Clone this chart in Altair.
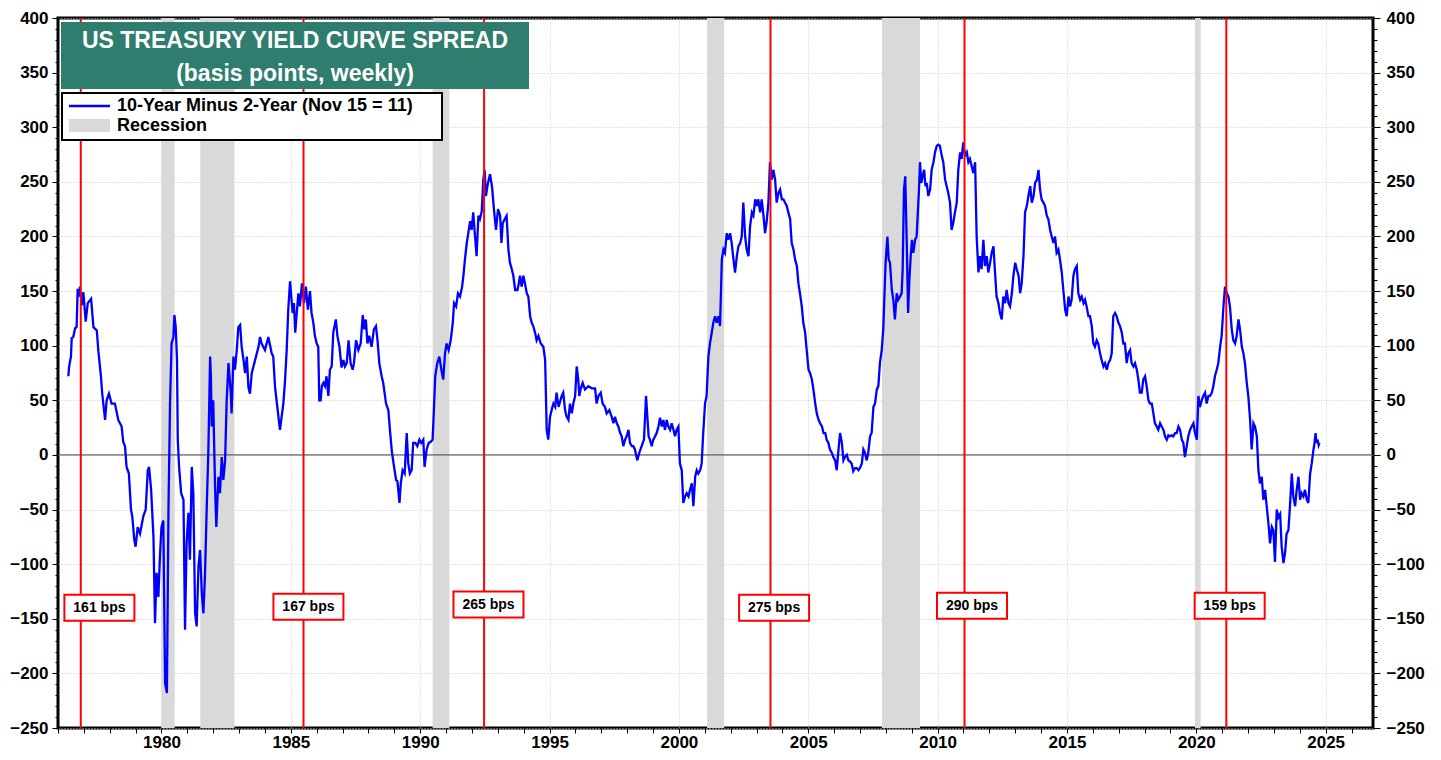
import altair as alt
import pandas as pd

# ---------------- data ----------------
weeks = [
    1976.40, 1976.43, 1976.50, 1976.53, 1976.59, 1976.66, 1976.72, 1976.76, 1976.81, 1976.85,
    1976.92, 1976.98, 1977.07, 1977.15, 1977.28, 1977.37, 1977.50, 1977.56, 1977.66, 1977.71,
    1977.82, 1977.88, 1977.97, 1978.07, 1978.20, 1978.33, 1978.46, 1978.52, 1978.59, 1978.65,
    1978.74, 1978.82, 1978.87, 1978.95, 1979.00, 1979.08, 1979.17, 1979.30, 1979.39, 1979.47,
    1979.52, 1979.60, 1979.69, 1979.75, 1979.81, 1979.88, 1979.94, 1980.00, 1980.07, 1980.14,
    1980.21, 1980.27, 1980.33, 1980.39, 1980.46, 1980.50, 1980.55, 1980.60, 1980.63, 1980.68,
    1980.76, 1980.85, 1980.91, 1980.97, 1981.04, 1981.10, 1981.17, 1981.23, 1981.30, 1981.36,
    1981.43, 1981.49, 1981.56, 1981.62, 1981.68, 1981.75, 1981.81, 1981.88, 1981.91, 1981.94,
    1982.00, 1982.07, 1982.12, 1982.20, 1982.26, 1982.33, 1982.39, 1982.46, 1982.52, 1982.59,
    1982.68, 1982.71, 1982.78, 1982.84, 1982.91, 1982.97, 1983.04, 1983.10, 1983.17, 1983.23,
    1983.30, 1983.36, 1983.42, 1983.49, 1983.62, 1983.75, 1983.81, 1983.87, 1984.00, 1984.13,
    1984.26, 1984.32, 1984.39, 1984.52, 1984.58, 1984.71, 1984.77, 1984.84, 1984.90, 1984.97,
    1985.07, 1985.12, 1985.17, 1985.29, 1985.35, 1985.43, 1985.51, 1985.58, 1985.66, 1985.74,
    1985.80, 1985.87, 1985.93, 1986.00, 1986.06, 1986.10, 1986.15, 1986.20, 1986.26, 1986.32,
    1986.38, 1986.45, 1986.51, 1986.58, 1986.64, 1986.74, 1986.80, 1986.88, 1986.96, 1987.03,
    1987.09, 1987.16, 1987.23, 1987.31, 1987.39, 1987.44, 1987.52, 1987.61, 1987.70, 1987.78,
    1987.84, 1987.90, 1987.96, 1988.03, 1988.12, 1988.21, 1988.29, 1988.35, 1988.42, 1988.51,
    1988.57, 1988.68, 1988.77, 1988.83, 1988.91, 1988.99, 1989.07, 1989.12, 1989.20, 1989.25,
    1989.32, 1989.40, 1989.48, 1989.54, 1989.60, 1989.67, 1989.73, 1989.81, 1989.89, 1989.97,
    1990.04, 1990.12, 1990.17, 1990.25, 1990.33, 1990.41, 1990.48, 1990.53, 1990.58, 1990.66,
    1990.74, 1990.82, 1990.89, 1990.96, 1991.02, 1991.10, 1991.18, 1991.26, 1991.31, 1991.39,
    1991.46, 1991.54, 1991.62, 1991.67, 1991.73, 1991.80, 1991.86, 1991.93, 1991.99, 1992.05,
    1992.12, 1992.18, 1992.25, 1992.31, 1992.38, 1992.44, 1992.49, 1992.54, 1992.62, 1992.70,
    1992.78, 1992.85, 1992.93, 1993.01, 1993.09, 1993.14, 1993.19, 1993.27, 1993.34, 1993.41,
    1993.47, 1993.54, 1993.60, 1993.67, 1993.76, 1993.81, 1993.86, 1993.92, 1993.99, 1994.05,
    1994.12, 1994.18, 1994.25, 1994.31, 1994.37, 1994.44, 1994.50, 1994.57, 1994.66, 1994.76,
    1994.83, 1994.89, 1994.95, 1995.02, 1995.08, 1995.15, 1995.22, 1995.27, 1995.35, 1995.47,
    1995.53, 1995.60, 1995.66, 1995.73, 1995.79, 1995.86, 1995.92, 1995.99, 1996.05, 1996.11,
    1996.15, 1996.20, 1996.28, 1996.37, 1996.50, 1996.63, 1996.76, 1996.82, 1996.89, 1996.98,
    1997.05, 1997.14, 1997.21, 1997.31, 1997.40, 1997.47, 1997.53, 1997.60, 1997.66, 1997.73,
    1997.79, 1997.85, 1997.92, 1997.98, 1998.05, 1998.11, 1998.18, 1998.24, 1998.30, 1998.39,
    1998.47, 1998.56, 1998.65, 1998.73, 1998.78, 1998.83, 1998.88, 1998.95, 1999.01, 1999.08,
    1999.14, 1999.21, 1999.27, 1999.34, 1999.40, 1999.46, 1999.53, 1999.59, 1999.66, 1999.72,
    1999.79, 1999.85, 1999.91, 1999.98, 2000.04, 2000.11, 2000.17, 2000.24, 2000.30, 2000.37,
    2000.43, 2000.50, 2000.56, 2000.63, 2000.69, 2000.75, 2000.82, 2000.88, 2000.94, 2001.01,
    2001.07, 2001.14, 2001.20, 2001.27, 2001.33, 2001.40, 2001.46, 2001.53, 2001.59, 2001.66,
    2001.72, 2001.78, 2001.85, 2001.91, 2001.98, 2002.04, 2002.11, 2002.17, 2002.24, 2002.30,
    2002.37, 2002.43, 2002.49, 2002.56, 2002.62, 2002.69, 2002.75, 2002.82, 2002.88, 2002.95,
    2003.01, 2003.07, 2003.14, 2003.20, 2003.27, 2003.33, 2003.39, 2003.46, 2003.52, 2003.59,
    2003.65, 2003.72, 2003.78, 2003.85, 2003.91, 2003.98, 2004.04, 2004.10, 2004.17, 2004.23,
    2004.30, 2004.36, 2004.43, 2004.49, 2004.56, 2004.62, 2004.68, 2004.75, 2004.81, 2004.88,
    2004.94, 2005.01, 2005.07, 2005.14, 2005.20, 2005.27, 2005.33, 2005.40, 2005.46, 2005.53,
    2005.59, 2005.66, 2005.71, 2005.78, 2005.84, 2005.91, 2005.97, 2006.04, 2006.10, 2006.17,
    2006.23, 2006.30, 2006.36, 2006.42, 2006.49, 2006.55, 2006.61, 2006.68, 2006.74, 2006.81,
    2006.87, 2006.94, 2007.00, 2007.07, 2007.13, 2007.19, 2007.26, 2007.32, 2007.39, 2007.45,
    2007.52, 2007.58, 2007.65, 2007.71, 2007.77, 2007.84, 2007.90, 2007.94, 2007.99, 2008.06,
    2008.11, 2008.16, 2008.23, 2008.29, 2008.35, 2008.42, 2008.48, 2008.55, 2008.61, 2008.65,
    2008.70, 2008.75, 2008.81, 2008.86, 2008.91, 2008.96, 2009.01, 2009.06, 2009.13, 2009.19,
    2009.23, 2009.28, 2009.32, 2009.37, 2009.42, 2009.48, 2009.53, 2009.58, 2009.64, 2009.71,
    2009.77, 2009.84, 2009.90, 2009.97, 2010.03, 2010.09, 2010.16, 2010.22, 2010.29, 2010.35,
    2010.41, 2010.48, 2010.54, 2010.61, 2010.67, 2010.74, 2010.80, 2010.87, 2010.93, 2010.99,
    2011.06, 2011.13, 2011.19, 2011.25, 2011.32, 2011.38, 2011.45, 2011.51, 2011.58, 2011.64,
    2011.70, 2011.77, 2011.83, 2011.90, 2011.96, 2012.03, 2012.09, 2012.16, 2012.22, 2012.28,
    2012.35, 2012.41, 2012.48, 2012.54, 2012.61, 2012.67, 2012.74, 2012.80, 2012.87, 2012.93,
    2013.00, 2013.06, 2013.13, 2013.19, 2013.25, 2013.32, 2013.38, 2013.45, 2013.51, 2013.58,
    2013.64, 2013.71, 2013.77, 2013.84, 2013.90, 2013.96, 2014.02, 2014.09, 2014.15, 2014.22,
    2014.28, 2014.35, 2014.41, 2014.48, 2014.54, 2014.60, 2014.67, 2014.73, 2014.80, 2014.86,
    2014.93, 2014.99, 2015.06, 2015.12, 2015.18, 2015.25, 2015.31, 2015.38, 2015.44, 2015.51,
    2015.57, 2015.64, 2015.70, 2015.76, 2015.83, 2015.89, 2015.96, 2016.02, 2016.08, 2016.15,
    2016.21, 2016.28, 2016.34, 2016.41, 2016.47, 2016.54, 2016.60, 2016.67, 2016.73, 2016.79,
    2016.86, 2016.92, 2016.99, 2017.05, 2017.12, 2017.18, 2017.24, 2017.31, 2017.37, 2017.44,
    2017.50, 2017.57, 2017.63, 2017.70, 2017.76, 2017.82, 2017.89, 2017.95, 2018.02, 2018.08,
    2018.15, 2018.21, 2018.28, 2018.34, 2018.40, 2018.47, 2018.53, 2018.60, 2018.66, 2018.73,
    2018.79, 2018.86, 2018.92, 2018.98, 2019.05, 2019.11, 2019.18, 2019.24, 2019.31, 2019.37,
    2019.44, 2019.50, 2019.56, 2019.63, 2019.69, 2019.76, 2019.82, 2019.89, 2019.95, 2020.02,
    2020.08, 2020.14, 2020.21, 2020.27, 2020.34, 2020.40, 2020.47, 2020.53, 2020.60, 2020.66,
    2020.72, 2020.79, 2020.85, 2020.92, 2020.98, 2021.05, 2021.11, 2021.18, 2021.24, 2021.30,
    2021.37, 2021.43, 2021.50, 2021.56, 2021.63, 2021.69, 2021.76, 2021.82, 2021.88, 2021.95,
    2022.01, 2022.08, 2022.14, 2022.21, 2022.27, 2022.34, 2022.40, 2022.46, 2022.53, 2022.59,
    2022.66, 2022.72, 2022.79, 2022.85, 2022.92, 2022.98, 2023.04, 2023.11, 2023.17, 2023.24,
    2023.30, 2023.37, 2023.43, 2023.49, 2023.56, 2023.62, 2023.69, 2023.75, 2023.82, 2023.88,
    2023.95, 2024.01, 2024.07, 2024.14, 2024.20, 2024.27, 2024.33, 2024.40, 2024.46, 2024.53,
    2024.57, 2024.61, 2024.65, 2024.69, 2024.73, 2024.76,
]

spread = [
    72, 81, 90, 107, 108, 116, 117, 152, 145, 154,
    137, 149, 122, 139, 143, 117, 114, 95, 72, 56,
    32, 50, 56, 47, 47, 32, 26, 12, 8, -11,
    -17, -50, -56, -78, -84, -66, -72, -56, -50, -14,
    -11, -32, -75, -154, -108, -130, -93, -66, -60, -209,
    -218, -50, 47, 102, 108, 128, 117, 87, 14, -11,
    -35, -41, -160, -81, -53, -96, -11, -35, -145, -157,
    -102, -87, -127, -145, -111, -47, 2, 90, 72, 26,
    50, -29, -66, -20, -35, -2, -23, -5, 50, 84,
    56, 38, 90, 78, 96, 117, 119, 99, 87, 75,
    90, 62, 56, 75, 87, 99, 108, 102, 96, 108,
    93, 90, 62, 35, 23, 47, 66, 96, 133, 159,
    130, 139, 112, 148, 136, 157, 139, 154, 133, 150,
    130, 121, 109, 102, 99, 50, 50, 63, 66, 63,
    72, 54, 78, 81, 112, 124, 109, 99, 80, 87,
    81, 84, 105, 84, 78, 84, 105, 96, 102, 128,
    115, 124, 102, 109, 99, 115, 118, 105, 84, 72,
    66, 47, 41, 23, 2, -11, -23, -24, -44, -26,
    -14, -17, 20, -8, -17, -14, 11, 11, 8, 14,
    11, 14, -11, 5, 11, 12, 14, 41, 72, 84,
    90, 78, 69, 93, 102, 96, 105, 121, 139, 136,
    148, 145, 154, 164, 179, 194, 203, 214, 206, 222,
    200, 182, 219, 216, 223, 252, 261, 237, 249, 257,
    245, 225, 206, 225, 219, 194, 212, 216, 219, 188,
    176, 170, 164, 151, 151, 157, 164, 154, 164, 157,
    148, 145, 127, 121, 118, 112, 105, 109, 102, 99,
    87, 23, 14, 35, 41, 47, 44, 57, 44, 54,
    57, 41, 35, 32, 47, 38, 47, 54, 81, 69,
    54, 60, 66, 60, 63, 61, 61, 47, 54, 57,
    47, 44, 38, 41, 35, 29, 35, 29, 26, 20,
    17, 8, 14, 17, 23, 11, 8, 8, 5, -5,
    2, 8, 14, 54, 35, 17, 14, 8, 14, 17,
    20, 26, 34, 26, 32, 23, 32, 26, 23, 29,
    23, 17, 23, 26, -8, -14, -44, -38, -35, -38,
    -32, -26, -47, -20, -14, -17, -14, -8, 20, 47,
    54, 90, 102, 112, 121, 127, 121, 127, 118, 179,
    188, 185, 203, 197, 203, 194, 179, 167, 182, 191,
    194, 200, 231, 200, 188, 182, 209, 222, 219, 234,
    228, 234, 222, 234, 219, 203, 213, 231, 268, 252,
    261, 252, 231, 240, 243, 234, 234, 231, 228, 222,
    216, 194, 188, 179, 173, 157, 148, 136, 121, 112,
    96, 78, 75, 69, 60, 47, 38, 32, 29, 26,
    20, 20, 14, 11, 5, 2, -2, -5, -14, 5,
    20, 11, -5, -2, 0, -5, -6, -8, -15, -12,
    -12, -14, -12, -8, 5, 2, -5, 2, 17, 20,
    44, 47, 60, 63, 84, 96, 115, 142, 176, 200,
    179, 176, 151, 142, 124, 148, 142, 145, 148, 170,
    243, 255, 191, 130, 161, 182, 197, 185, 197, 200,
    219, 243, 268, 249, 255, 261, 246, 249, 237, 243,
    261, 268, 277, 283, 284, 283, 274, 268, 252, 246,
    240, 231, 206, 213, 222, 231, 261, 277, 271, 286,
    274, 277, 268, 271, 264, 258, 268, 200, 167, 182,
    170, 197, 173, 182, 167, 176, 185, 191, 167, 145,
    139, 130, 124, 145, 139, 151, 139, 136, 148, 164,
    176, 170, 164, 148, 157, 182, 222, 228, 237, 246,
    231, 237, 249, 252, 261, 243, 234, 231, 228, 219,
    216, 206, 200, 194, 200, 185, 188, 179, 167, 151,
    133, 127, 145, 136, 142, 164, 170, 173, 148, 142,
    145, 139, 142, 136, 127, 127, 118, 102, 99, 105,
    102, 93, 87, 81, 84, 78, 84, 87, 93, 127,
    130, 127, 121, 118, 112, 102, 102, 84, 93, 96,
    84, 81, 84, 78, 69, 57, 57, 69, 72, 63,
    50, 47, 47, 38, 29, 26, 23, 29, 26, 23,
    17, 14, 18, 17, 18, 17, 20, 20, 26, 23,
    14, 11, -2, 8, 17, 23, 26, 29, 20, 14,
    54, 44, 50, 54, 57, 47, 54, 54, 57, 63,
    72, 78, 84, 99, 109, 136, 154, 148, 145, 136,
    115, 105, 102, 109, 124, 115, 99, 93, 84, 66,
    54, 32, 5, 29, 26, 17, -14, -26, -20, -41,
    -32, -47, -63, -81, -66, -69, -98, -50, -57, -54,
    -84, -99, -90, -72, -69, -47, -17, -38, -47, -32,
    -20, -41, -35, -38, -32, -41, -44, -17, -8, 5,
    11, 20, 11, 14, 9, 11,
]

rec_start = [1979.99, 1981.50, 1990.48, 2001.09, 2007.85, 2019.95]
rec_end = [1980.51, 1982.82, 1991.13, 2001.75, 2009.32, 2020.17]

peak_years = [1976.88, 1985.49, 1992.47, 2003.54, 2011.04, 2021.16]
peak_texts = ["161 bps", "167 bps", "265 bps", "275 bps", "290 bps", "159 bps"]
label_years = [1977.60, 1985.68, 1992.64, 2003.68, 2011.33, 2021.29]
label_levels = [-140, -139, -137, -140, -138, -138]

title_lines = ["US TREASURY YIELD CURVE SPREAD", "(basis points, weekly)"]
legend_texts = ["10-Year Minus 2-Year (Nov 15 = 11)", "Recession"]

x_major_years = list(range(1980, 2026, 5))
x_minor_years = list(range(1976, 2027))
y_major_vals = list(range(-250, 401, 50))
y_minor_vals = list(range(-250, 401, 10))

# ---------------- styling ----------------
FONT = "Liberation Sans"
W, H = 1315, 710
X_DOMAIN = [1976, 2026.83]
Y_DOMAIN = [-250, 400]
BLUE = "#0000ff"
RED = "#ff0000"
GREY = "#d9d9d9"
TEAL = "#2e7d6e"
GRID = "#c8c8c8"


def xs():
    return alt.Scale(domain=X_DOMAIN, nice=False, zero=False)


def ys():
    return alt.Scale(domain=Y_DOMAIN, nice=False, zero=False)


label_style = dict(labelFont=FONT, labelFontSize=17, labelFontWeight="bold",
                   labelColor="black", labelOverlap=False, labelFlush=False,
                   title=None, domain=False)

x_major = alt.Axis(orient="bottom", values=x_major_years, format="d", ticks=False,
                   labelPadding=6, grid=True, gridColor=GRID, gridDash=[1, 2],
                   gridWidth=1, **label_style)
x_minor = alt.Axis(orient="bottom", values=x_minor_years, labels=False, ticks=True,
                   tickSize=5, tickColor="black", tickWidth=1, grid=False,
                   domain=False, title=None)
y_left_major = alt.Axis(orient="left", values=y_major_vals, ticks=True, tickSize=6,
                        tickColor="black", tickWidth=1, labelPadding=4, grid=True,
                        gridColor=GRID, gridDash=[1, 2], gridWidth=1, **label_style)
y_left_minor = alt.Axis(orient="left", values=y_minor_vals, labels=False, ticks=True,
                        tickSize=3, tickColor="black", tickWidth=1, grid=False,
                        domain=False, title=None)
y_right_major = alt.Axis(orient="right", values=y_major_vals, ticks=True, tickSize=7,
                         tickColor="black", tickWidth=1, labelPadding=6, grid=False,
                         **label_style)
y_right_minor = alt.Axis(orient="right", values=y_minor_vals, labels=False, ticks=True,
                         tickSize=4, tickColor="black", tickWidth=1, grid=False,
                         domain=False, title=None)

series = pd.DataFrame({"year": weeks, "bps": spread})
rec = pd.DataFrame({"start": rec_start, "end": rec_end})
peaks = pd.DataFrame({"year": peak_years})
labels = pd.DataFrame({"year": label_years, "level": label_levels, "text": peak_texts})
zero = pd.DataFrame({"v": [0]})
one = pd.DataFrame({"k": [0]})

rec_layer = alt.Chart(rec).mark_rect(color=GREY).encode(
    x=alt.X("start:Q", scale=xs(), axis=x_major),
    x2="end:Q",
    y=alt.value(0),
    y2=alt.value(H),
)

zero_layer = alt.Chart(zero).mark_rule(color="#404040", strokeWidth=1).encode(
    y=alt.Y("v:Q", scale=ys(), axis=y_left_minor)
)

line_layer = alt.Chart(series).mark_line(color=BLUE, strokeWidth=2.3).encode(
    x=alt.X("year:Q", scale=xs(), axis=None),
    y=alt.Y("bps:Q", scale=ys(), axis=y_left_major),
    order="year:Q",
)

peak_layer = alt.Chart(peaks).mark_rule(color=RED, strokeWidth=2).encode(
    x=alt.X("year:Q", scale=xs(), axis=x_minor)
)

BOX = "M-1,-0.371L1,-0.371L1,0.371L-1,0.371Z"
box_layer = alt.Chart(labels).mark_point(
    shape=BOX, size=4900, filled=True, fill="white", stroke=RED,
    strokeWidth=2, opacity=1, fillOpacity=1, strokeOpacity=1
).encode(
    x=alt.X("year:Q", scale=xs(), axis=None),
    y=alt.Y("level:Q", scale=ys(), axis=y_right_major),
)

box_text = alt.Chart(labels).mark_text(
    font=FONT, fontSize=14, fontWeight="bold", color="black", baseline="middle"
).encode(
    x=alt.X("year:Q", scale=xs(), axis=None),
    y=alt.Y("level:Q", scale=ys(), axis=y_right_minor),
    text="text:N",
)

title_box = alt.Chart(one).mark_rect(color=TEAL).encode(
    x=alt.value(3), x2=alt.value(471), y=alt.value(4), y2=alt.value(71)
)
title_layers = []
for line, ypos in zip(title_lines, [22.5, 55.5]):
    title_layers.append(
        alt.Chart(pd.DataFrame({"t": [line]})).mark_text(
            font=FONT, fontSize=23, fontWeight="bold", color="white",
            align="center", baseline="middle"
        ).encode(x=alt.value(237), y=alt.value(ypos), text="t:N")
    )

legend_box = alt.Chart(one).mark_rect(fill="white", stroke="black", strokeWidth=2).encode(
    x=alt.value(4), x2=alt.value(384), y=alt.value(75), y2=alt.value(122)
)
legend_line = alt.Chart(one).mark_rule(color=BLUE, strokeWidth=2.5).encode(
    x=alt.value(11), x2=alt.value(52), y=alt.value(88)
)
legend_swatch = alt.Chart(one).mark_rect(color=GREY).encode(
    x=alt.value(11), x2=alt.value(52), y=alt.value(101), y2=alt.value(114)
)
legend_layers = []
for txt, ypos in zip(legend_texts, [88, 108]):
    legend_layers.append(
        alt.Chart(pd.DataFrame({"t": [txt]})).mark_text(
            font=FONT, fontSize=18, fontWeight="bold", color="black",
            align="left", baseline="middle"
        ).encode(x=alt.value(59), y=alt.value(ypos), text="t:N")
    )

chart = alt.layer(
    rec_layer, zero_layer, line_layer, peak_layer, box_layer, box_text,
    title_box, *title_layers, legend_box, legend_line, legend_swatch, *legend_layers
).resolve_scale(
    x="independent", y="independent"
).properties(
    width=W, height=H,
    autosize=alt.AutoSizeParams(type="none"),
    padding={"left": 50, "top": 10, "right": 60, "bottom": 24},
    background="white",
).configure_view(
    stroke="black", strokeWidth=3
)

chart.save("out.html", embed_options={"renderer": "svg", "actions": False})
